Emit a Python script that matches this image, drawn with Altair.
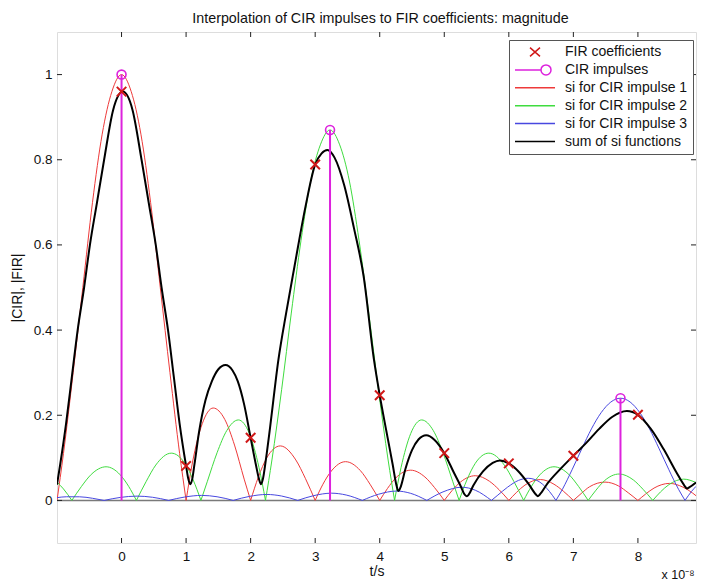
import altair as alt
import pandas as pd

# ---------------- data ----------------
fir_t = [0, 1, 2, 3, 4, 5, 6, 7, 8]
fir_v = [0.96, 0.081, 0.147, 0.789, 0.247, 0.111, 0.087, 0.105, 0.201]

cir_t = [0, 3.23, 7.73]
cir_v = [1.0, 0.87, 0.24]

baseline_v = [0]

red_t = [-1, -0.9, -0.75, -0.6, -0.45, -0.3, -0.15, 0, 0.15, 0.3, 0.45, 0.6, 0.75, 0.9, 1,
         1.1, 1.25, 1.42, 1.6, 1.75, 1.9, 2,
         2.12, 2.25, 2.46, 2.7, 2.85, 3,
         3.12, 3.25, 3.47, 3.7, 3.85, 4,
         4.12, 4.25, 4.48, 4.7, 4.85, 5,
         5.12, 5.25, 5.48, 5.7, 5.85, 6,
         6.12, 6.25, 6.49, 6.7, 6.85, 7,
         7.12, 7.25, 7.49, 7.7, 7.85, 8,
         8.12, 8.25, 8.49, 8.7, 8.85, 8.9]
red_v = [0, 0.11, 0.30, 0.50, 0.70, 0.86, 0.96, 1.0, 0.96, 0.86, 0.70, 0.50, 0.30, 0.11, 0,
         0.09, 0.18, 0.217, 0.19, 0.13, 0.05, 0,
         0.055, 0.10, 0.128, 0.095, 0.051, 0,
         0.038, 0.069, 0.091, 0.070, 0.038, 0,
         0.028, 0.053, 0.071, 0.055, 0.030, 0,
         0.023, 0.043, 0.058, 0.045, 0.025, 0,
         0.019, 0.036, 0.049, 0.038, 0.021, 0,
         0.016, 0.032, 0.043, 0.034, 0.018, 0,
         0.015, 0.029, 0.040, 0.031, 0.017, 0.011]

green_t = [-1, -0.9, -0.77,
           -0.62, -0.47, -0.24, -0.02, 0.11, 0.23,
           0.38, 0.53, 0.77, 0.98, 1.11, 1.23,
           1.33, 1.48, 1.63, 1.81, 1.98, 2.13, 2.23,
           2.33, 2.48, 2.63, 2.78, 2.93, 3.08, 3.23, 3.38, 3.53, 3.68, 3.83, 3.98, 4.13, 4.23,
           4.33, 4.48, 4.65, 4.83, 4.98, 5.13, 5.23,
           5.35, 5.48, 5.69, 5.93, 6.08, 6.23,
           6.35, 6.48, 6.70, 6.93, 7.08, 7.23,
           7.35, 7.48, 7.71, 7.93, 8.08, 8.23,
           8.35, 8.48, 8.71, 8.9]
green_v = [0.043, 0.027, 0,
           0.033, 0.061, 0.079, 0.060, 0.033, 0,
           0.044, 0.083, 0.111, 0.087, 0.048, 0,
           0.045, 0.112, 0.164, 0.189, 0.157, 0.077, 0,
           0.095, 0.26, 0.44, 0.61, 0.75, 0.835, 0.87, 0.835, 0.75, 0.61, 0.44, 0.26, 0.095, 0,
           0.077, 0.157, 0.189, 0.164, 0.112, 0.045, 0,
           0.048, 0.087, 0.111, 0.083, 0.044, 0,
           0.033, 0.060, 0.079, 0.061, 0.033, 0,
           0.024, 0.046, 0.062, 0.048, 0.026, 0,
           0.020, 0.037, 0.050, 0.042]

blue_t = [-1, -0.85, -0.65, -0.45, -0.27,
          -0.02, 0.24, 0.48, 0.73,
          0.98, 1.24, 1.48, 1.73,
          1.98, 2.25, 2.48, 2.73,
          2.98, 3.25, 3.48, 3.73,
          3.98, 4.26, 4.48, 4.73,
          4.98, 5.27, 5.48, 5.73,
          5.83, 5.98, 6.15, 6.30, 6.48, 6.63, 6.73,
          6.83, 6.98, 7.13, 7.28, 7.43, 7.58, 7.73, 7.88, 8.03, 8.18, 8.33, 8.48, 8.63, 8.73,
          8.83, 8.9]
blue_v = [0.0065, 0.0086, 0.0085, 0.005, 0,
          0.007, 0.0101, 0.0074, 0,
          0.008, 0.0118, 0.0086, 0,
          0.0094, 0.014, 0.0103, 0,
          0.0113, 0.017, 0.0127, 0,
          0.0144, 0.022, 0.0166, 0,
          0.020, 0.031, 0.024, 0,
          0.0125, 0.031, 0.047, 0.052, 0.043, 0.021, 0,
          0.026, 0.072, 0.121, 0.168, 0.206, 0.231, 0.24, 0.231, 0.206, 0.168, 0.121, 0.072, 0.026, 0,
          0.021, 0.033]

black_t = [-1, -0.95, -0.86, -0.77, -0.68, -0.58, -0.49, -0.38, -0.27, -0.13,
           0.02, 0.17, 0.31, 0.42, 0.53, 0.62, 0.72, 0.81, 0.9, 1.0,
           1.035, 1.065, 1.095, 1.13, 1.2, 1.3, 1.4, 1.5, 1.61, 1.72,
           1.8, 1.9, 2.0, 2.08, 2.13, 2.16, 2.19, 2.24, 2.3, 2.43,
           2.55, 2.68, 2.85, 3.0, 3.1, 3.19, 3.3, 3.45, 3.6, 3.75,
           3.91, 4.0, 4.1, 4.2, 4.26, 4.29, 4.32, 4.4, 4.5, 4.6,
           4.72, 4.85, 5.0, 5.15, 5.25, 5.32, 5.35, 5.38, 5.45, 5.6,
           5.75, 5.86, 6.0, 6.15, 6.3, 6.42, 6.45, 6.48, 6.6, 6.8,
           7.0, 7.2, 7.4, 7.6, 7.83, 8.0, 8.2, 8.4, 8.6, 8.72,
           8.76, 8.8, 8.9]
black_v = [0.037, 0.085, 0.18, 0.29, 0.40, 0.50, 0.60, 0.70, 0.80, 0.917,
           0.96, 0.917, 0.80, 0.70, 0.60, 0.50, 0.40, 0.29, 0.18, 0.081,
           0.05, 0.038, 0.05, 0.085, 0.16, 0.235, 0.28, 0.308, 0.318, 0.305,
           0.28, 0.225, 0.147, 0.085, 0.05, 0.038, 0.05, 0.10, 0.17, 0.33,
           0.44, 0.55, 0.69, 0.789, 0.815, 0.823, 0.805, 0.74, 0.64, 0.527,
           0.331, 0.247, 0.165, 0.085, 0.035, 0.022, 0.03, 0.075, 0.118, 0.143,
           0.153, 0.142, 0.111, 0.065, 0.035, 0.013, 0.010, 0.014, 0.035, 0.068,
           0.088, 0.094, 0.087, 0.068, 0.04, 0.014, 0.010, 0.014, 0.04, 0.074,
           0.105, 0.135, 0.168, 0.196, 0.21, 0.201, 0.168, 0.12, 0.065, 0.035,
           0.028, 0.031, 0.042]

x_ticks = [0, 1, 2, 3, 4, 5, 6, 7, 8]
y_ticks = [0, 0.2, 0.4, 0.6, 0.8, 1.0]

legend_names = ["FIR coefficients", "CIR impulses", "si for CIR impulse 1",
                "si for CIR impulse 2", "si for CIR impulse 3", "sum of si functions"]

# ---------------- styling ----------------
C_FIR = "#d01818"
C_CIR = "#dd22dd"
C_RED = "#ee3a3a"
C_GREEN = "#3fdc3f"
C_BLUE = "#4848e0"
C_BLACK = "#000000"
legend_colors = [C_FIR, C_CIR, C_RED, C_GREEN, C_BLUE, C_BLACK]

X_PATH = "M-1,-1L1,1M-1,1L1,-1"
legend_paths = [
    "M-0.25,-0.22L0.25,0.22M-0.25,0.22L0.25,-0.22",
    "M-1,0L0.3,0M0.8,0A0.25,0.25 0 1 1 0.3,0A0.25,0.25 0 1 1 0.8,0",
    "M-1,0L1,0", "M-1,0L1,0", "M-1,0L1,0", "M-1,0L1,0",
]

W, H = 639, 511
FONT = "Liberation Sans"
TICK = 5
TICK_COLOR = "#222"
for a, b in [(red_t, red_v), (green_t, green_v), (blue_t, blue_v), (black_t, black_v)]:
    assert len(a) == len(b)


def lobes(ts, vs, name):
    rows, seg = [], 0
    for i, (t, v) in enumerate(zip(ts, vs)):
        rows.append({"t": t, "v": v, "seg": f"{name}{seg}"})
        if v == 0 and 0 < i < len(ts) - 1:
            seg += 1
            rows.append({"t": t, "v": v, "seg": f"{name}{seg}"})
    return pd.DataFrame(rows)


xs = alt.Scale(domain=[-1, 8.9], nice=False, zero=False)
ys = alt.Scale(domain=[-0.1, 1.1], nice=False, zero=False)

common = dict(grid=False, domain=False, ticks=False,
              labelFont=FONT, labelFontSize=13.5, labelColor="#111",
              titleFont=FONT, titleFontWeight="normal", titleColor="#111")

ax_x_main = alt.Axis(orient="bottom", values=x_ticks, labelPadding=6,
                     title="t/s", titlePadding=2, titleFontSize=14, **common)
ax_y_main = alt.Axis(orient="left", values=y_ticks, labelPadding=5, format="~g",
                     title="|CIR|, |FIR|", titlePadding=9, titleFontSize=14, **common)
# carries only the exponent note at the lower right corner
ax_x_note = alt.Axis(orient="top", offset=-H, values=x_ticks, labels=False,
                     title="x 10\u207b\u2078", titleX=W - 35, titleY=31, titleAlign="left",
                     titleBaseline="middle", titleAngle=0, titleFontSize=12.5, **common)


def si_layer(ts, vs, name, color, width, xaxis=None, yaxis=None):
    return alt.Chart(lobes(ts, vs, name)).mark_line(
        color=color, strokeWidth=width, interpolate="monotone", clip=True
    ).encode(
        x=alt.X("t:Q", scale=xs, axis=xaxis),
        y=alt.Y("v:Q", scale=ys, axis=yaxis),
        detail="seg:N",
    )


base_layer = alt.Chart(pd.DataFrame({"b": baseline_v})).mark_rule(
    color="#7a7a7a", strokeWidth=1.5
).encode(y=alt.Y("b:Q", scale=ys, axis=None))

red_layer = si_layer(red_t, red_v, "r", C_RED, 1, ax_x_note, None)
green_layer = si_layer(green_t, green_v, "g", C_GREEN, 1)
blue_layer = si_layer(blue_t, blue_v, "b", C_BLUE, 1)

black_layer = alt.Chart(pd.DataFrame({"t": black_t, "v": black_v})).mark_line(
    color=C_BLACK, strokeWidth=2, interpolate="monotone", clip=True
).encode(
    x=alt.X("t:Q", scale=xs, axis=ax_x_main),
    y=alt.Y("v:Q", scale=ys, axis=ax_y_main),
)

cir_df = pd.DataFrame({"t": cir_t, "v": cir_v, "b": [baseline_v[0]] * len(cir_t)})
stem_layer = alt.Chart(cir_df).mark_rule(color=C_CIR, strokeWidth=2).encode(
    x=alt.X("t:Q", scale=xs, axis=None),
    y=alt.Y("b:Q", scale=ys, axis=None),
    y2="v:Q",
)
circle_layer = alt.Chart(cir_df).mark_point(
    shape="circle", size=80, filled=False, color=C_CIR, strokeWidth=1.6, opacity=1
).encode(
    x=alt.X("t:Q", scale=xs, axis=None),
    y=alt.Y("v:Q", scale=ys, axis=None),
)

fir_layer = alt.Chart(pd.DataFrame({"t": fir_t, "v": fir_v})).mark_point(
    shape=X_PATH, size=90, filled=False, color=C_FIR, strokeWidth=2, opacity=1
).encode(
    x=alt.X("t:Q", scale=xs, axis=None),
    y=alt.Y("v:Q", scale=ys, axis=None),
)

# MATLAB-style inward tick marks on all four sides of the box
xt_df = pd.DataFrame({"t": x_ticks})
yt_df = pd.DataFrame({"v": y_ticks})
tick_bottom = alt.Chart(xt_df).mark_rule(color=TICK_COLOR, strokeWidth=1).encode(
    x=alt.X("t:Q", scale=xs, axis=None), y=alt.value(H - TICK), y2=alt.value(H))
tick_top = alt.Chart(xt_df).mark_rule(color=TICK_COLOR, strokeWidth=1).encode(
    x=alt.X("t:Q", scale=xs, axis=None), y=alt.value(0), y2=alt.value(TICK))
tick_left = alt.Chart(yt_df).mark_rule(color=TICK_COLOR, strokeWidth=1).encode(
    y=alt.Y("v:Q", scale=ys, axis=None), x=alt.value(0), x2=alt.value(TICK))
tick_right = alt.Chart(yt_df).mark_rule(color=TICK_COLOR, strokeWidth=1).encode(
    y=alt.Y("v:Q", scale=ys, axis=None), x=alt.value(W - TICK), x2=alt.value(W))

leg = alt.Legend(
    title=None, orient="none", legendX=W - 187, legendY=8, padding=5,
    strokeColor="#555", fillColor="white", cornerRadius=0,
    labelFont=FONT, labelFontSize=14, labelColor="#111", labelOffset=9,
    symbolSize=1600, symbolStrokeWidth=1.5, symbolOpacity=1,
    rowPadding=3.9, clipHeight=14,
)
legend_layer = alt.Chart(pd.DataFrame({"series": legend_names})).mark_point(
    filled=False, clip=True, size=1600, strokeWidth=1.5, opacity=1
).encode(
    x=alt.value(-80), y=alt.value(-80),
    color=alt.Color("series:N", scale=alt.Scale(domain=legend_names, range=legend_colors), legend=leg),
    shape=alt.Shape("series:N", scale=alt.Scale(domain=legend_names, range=legend_paths), legend=leg),
)

chart = alt.layer(
    base_layer, red_layer, green_layer, blue_layer, black_layer,
    stem_layer, circle_layer, fir_layer,
    tick_bottom, tick_top, tick_left, tick_right, legend_layer,
).resolve_axis(
    x="independent", y="independent"
).properties(
    width=W, height=H,
    title=alt.TitleParams(
        "Interpolation of CIR impulses to FIR coefficients: magnitude",
        font=FONT, fontSize=14.3, fontWeight="normal", color="#111", offset=5,
        anchor="middle", dx=4,
    ),
    autosize=alt.AutoSizeParams(type="none"),
    padding={"left": 49, "top": 24, "right": 1, "bottom": 37},
).configure_view(
    stroke="#333", strokeWidth=1
).configure(background="white")

chart.save("out.html", embed_options={"renderer": "svg", "actions": False})
